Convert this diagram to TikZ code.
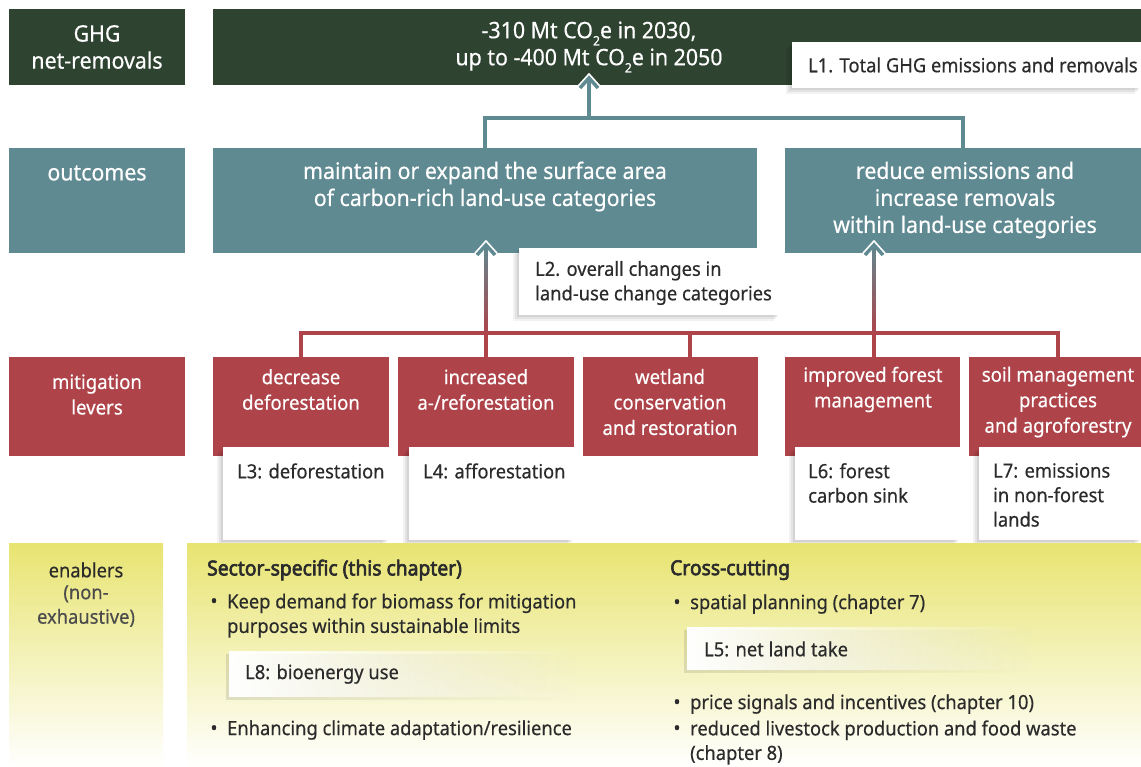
\documentclass[tikz,border=0pt]{standalone}
\usepackage{fontspec}
\setmainfont{Noto Sans}[FakeStretch=0.94, FakeBold=0.4]
\newfontfamily\headfont{Noto Sans}[FakeStretch=0.94, FakeBold=3]
\usetikzlibrary{arrows.meta,fadings,shadows,fit,calc}
\definecolor{dgreen}{HTML}{2F4331}
\definecolor{tealc}{HTML}{5F8A92}
\definecolor{redc}{HTML}{AE434A}
\definecolor{yel}{HTML}{E8E471}
\definecolor{txt}{HTML}{2B2B2B}
\tikzfading[name=fadeup, top color=transparent!0, bottom color=transparent!100]
\tikzfading[name=faderight, left color=transparent!0, middle color=transparent!0, right color=transparent!100]
\newcommand{\COtwo}{CO\raisebox{-0.32em}{\fontsize{13}{13}\selectfont 2}e}
\tikzset{
  boxbase/.style={inner sep=0, outer sep=0, draw=none},
  gbox/.style={boxbase, fill=dgreen},
  tbox/.style={boxbase, fill=tealc},
  rbox/.style={boxbase, fill=redc},
  ybox/.style={boxbase, top color=yel, middle color=yel!62, bottom color=white},
  wbox/.style={boxbase, fill=white,
    general shadow={fill=black, opacity=0.07, shadow xshift=-2pt, shadow yshift=-2pt},
    general shadow={fill=black, opacity=0.06, shadow xshift=-4pt, shadow yshift=-4pt},
    general shadow={fill=black, opacity=0.05, shadow xshift=-6pt, shadow yshift=-6pt}},
  wt/.style={text=white, font=\fontsize{22.7}{27}\selectfont, align=center, inner sep=0},
  lt/.style={text=white, font=\fontsize{19.8}{25.5}\selectfont, align=center, inner sep=0},
  dt/.style={text=txt, font=\fontsize{19.5}{24.5}\selectfont, align=left, inner sep=0},
  ht/.style={text=txt, font=\headfont\fontsize{20.5}{24.5}\selectfont, align=left, inner sep=0},
  tline/.style={draw=tealc, line width=3.5pt},
  rline/.style={draw=redc, line width=3.5pt},
  chev/.style={line width=3.5pt, miter limit=10},
  halo/.style={draw=white, line width=7pt, miter limit=10},
}
\begin{document}
\begin{tikzpicture}[x=1pt,y=-1pt]
\useasboundingbox[fill=white] (0,0) rectangle (1141,767);

% ---------- row 1 ----------
\node[gbox, fit={(9,9)(185,85)}] (lab1) {};
\node[wt] (lab1t) at (97,47) {GHG\\net-removals};
\node[gbox, fit={(213,9)(1141,85)}] (top) {};
\node[wt] (topt) at (589,47) {-310 Mt \COtwo{} in 2030,\\up to -400 Mt \COtwo{} in 2050};
\node[wbox, fit={(792,42)(1141,88)}] (l1) {};
\node[dt, anchor=west] (l1t) at (808,65) {L1. Total GHG emissions and removals};

% ---------- row 2 ----------
\node[tbox, fit={(9,148)(185,253)}] (lab2) {};
\node[wt] (lab2t) at (97,173) {outcomes};
\node[tbox, fit={(213,148)(757,253)}] (out1) {};
\node[wt] (out1t) at (485,186.5) {maintain or expand the surface area\\of carbon-rich land-use categories};
\node[tbox, fit={(785,148)(1141,253)}] (out2) {};
\node[wt] (out2t) at (965,200) {reduce emissions and\\increase removals\\within land-use categories};

% teal connectors
\coordinate (j1) at (589,118);
\coordinate (a1) at (589,78);
\draw[tline] (out1.north) |- (j1) -| (out2.north);
\draw[halo] ($(a1)+(-9,10)$) -- (a1) -- ($(a1)+(9,10)$);
\draw[tline] (j1) -- (a1);
\draw[tline, chev] ($(a1)+(-9,10)$) -- (a1) -- ($(a1)+(9,10)$);

% ---------- row 3 ----------
\node[rbox, fit={(9,357)(185,456)}] (lab3) {};
\node[lt] (lab3t) at (97,394.5) {mitigation\\levers};
\node[rbox, fit={(213,357)(389,456)}] (lev1) {};
\node[rbox, fit={(398,357)(574,456)}] (lev2) {};
\node[rbox, fit={(583,357)(758,456)}] (lev3) {};
\node[rbox, fit={(785,357)(960,456)}] (lev4) {};
\node[rbox, fit={(969,357)(1141,456)}] (lev5) {};
\node[lt] (lev1t) at (301,389.5) {decrease\\deforestation};
\node[lt] (lev2t) at (486,389.5) {increased\\a-/reforestation};
\node[lt] (lev3t) at (670,402) {wetland\\conservation\\and restoration};
\node[lt] (lev4t) at (873,389.5) {improved forest\\management};
\node[lt] (lev5t) at (1058,402) {soil management\\practices\\and agroforestry};

% red connectors
\coordinate (c1) at (301,357);
\coordinate (c2) at (486,357);
\coordinate (c3) at (690,357);
\coordinate (c4) at (874,357);
\coordinate (c5) at (1058,357);
\coordinate (rl) at (0,333);
\draw[rline] (c1) -- (c1 |- rl) -- (c5 |- rl) -- (c5);
\draw[rline] (c2 |- rl) -- (c2);
\draw[rline] (c3 |- rl) -- (c3);
\draw[rline] (c4 |- rl) -- (c4);
% gradient arrows up to outcomes
\coordinate (g1s) at (486,333);
\coordinate (g1e) at (486,245);
\coordinate (g2s) at (874,333);
\coordinate (g2e) at (874,245);
\draw[halo] ($(g1e)+(-9,10)$) -- (g1e) -- ($(g1e)+(9,10)$);
\draw[halo] ($(g2e)+(-9,10)$) -- (g2e) -- ($(g2e)+(9,10)$);
\draw[rline] (g1s) -- (g1e);
\draw[rline] (g2s) -- (g2e);
\draw[tline, path fading=fadeup] (g1s) -- (g1e);
\draw[tline, path fading=fadeup] (g2s) -- (g2e);
\draw[tline, chev] ($(g1e)+(-9,10)$) -- (g1e) -- ($(g1e)+(9,10)$);
\draw[tline, chev] ($(g2e)+(-9,10)$) -- (g2e) -- ($(g2e)+(9,10)$);

% L2 annotation
\node[wbox, fit={(519,248)(780,315)}] (l2) {};
\node[dt, anchor=west] (l2t) at (535,283) {L2. overall changes in\\land-use change categories};

% lever annotations
\node[wbox, fit={(223,447)(389,540)}] (l3) {};
\node[dt, anchor=west] (l3t) at (237,471) {L3: deforestation};
\node[wbox, fit={(409,447)(574,540)}] (l4) {};
\node[dt, anchor=west] (l4t) at (423,471) {L4: afforestation};
\node[wbox, fit={(795,447)(960,540)}] (l6) {};
\node[dt, anchor=west] (l6t) at (808,483) {L6: forest\\carbon sink};
\node[wbox, fit={(979,447)(1141,540)}] (l7) {};
\node[dt, anchor=west] (l7t) at (993,495) {L7: emissions\\in non-forest\\lands};

% ---------- row 4 ----------
\node[ybox, fit={(9,543)(163,767)}] (lab4) {};
\node[dt, align=center] (lab4t) at (86,570) {enablers};
\node[dt, align=center, text=txt!85] (lab4u) at (86,606) {(non-\\exhaustive)};
\node[ybox, fit={(187,543)(1141,767)}] (en) {};

\node[ht, anchor=west] (h1) at (207,570) {Sector-specific (this chapter)};
\node[dt] (b1) at (214,603) {\textbullet};
\node[dt, anchor=west] (b1t) at (227,615.5) {Keep demand for biomass for mitigation\\purposes within sustainable limits};
\fill[black, opacity=0.10, path fading=faderight] (226,654) rectangle (580,700);
\fill[white, path fading=faderight] (229,651) rectangle (582,697);
\node[dt, anchor=west] (l8t) at (245,674) {L8: bioenergy use};
\node[dt] (b2) at (214,730) {\textbullet};
\node[dt, anchor=west] (b2t) at (227,730) {Enhancing climate adaptation/resilience};

\node[ht, anchor=west] (h2) at (670,570) {Cross-cutting};
\node[dt] (b3) at (677,604) {\textbullet};
\node[dt, anchor=west] (b3t) at (690,604) {spatial planning (chapter 7)};
\fill[black, opacity=0.10, path fading=faderight] (684,630) rectangle (1035,673);
\fill[white, path fading=faderight] (687,627) rectangle (1037,670);
\node[dt, anchor=west] (l5t) at (704,649) {L5: net land take};
\node[dt] (b4) at (677,704) {\textbullet};
\node[dt, anchor=west] (b4t) at (690,704) {price signals and incentives (chapter 10)};
\node[dt] (b5) at (677,730) {\textbullet};
\node[dt, anchor=west] (b5t) at (690,742.5) {reduced livestock production and food waste\\(chapter 8)};
\end{tikzpicture}
\end{document}
